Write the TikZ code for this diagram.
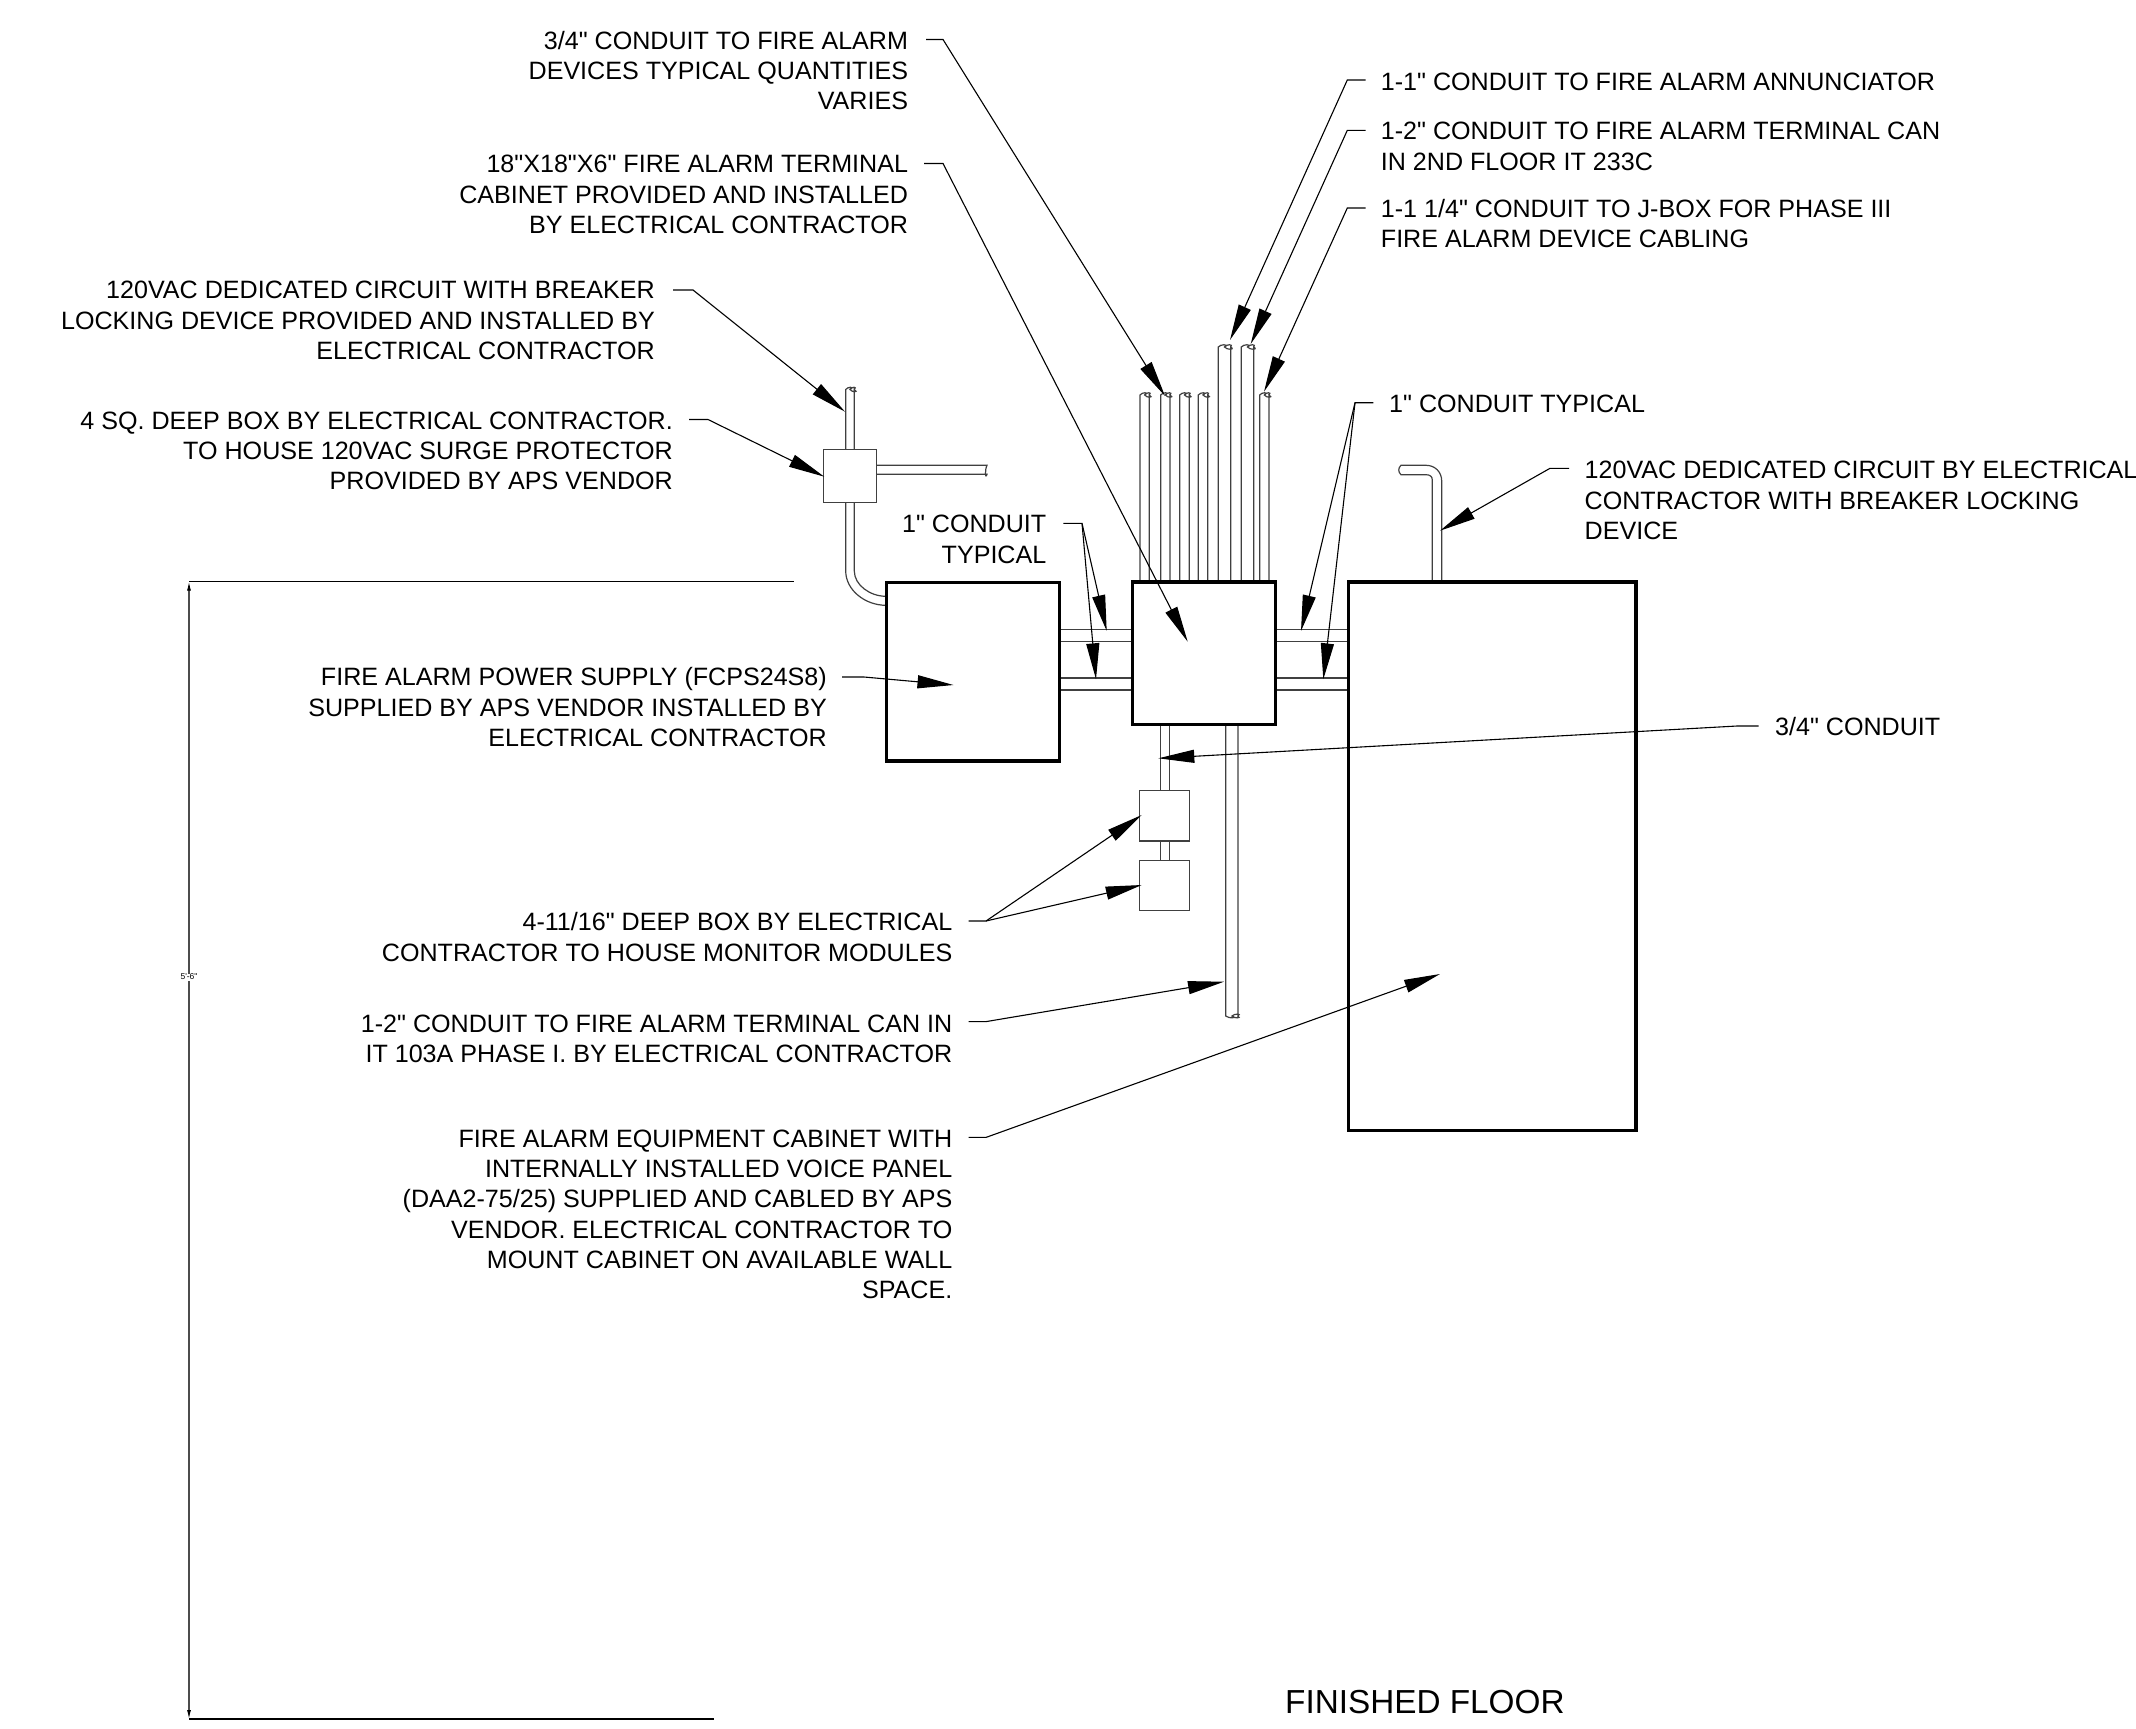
\documentclass[tikz,border=0pt]{standalone}
\usepackage{fontspec}
\setmainfont[Ligatures=TeXOff]{Liberation Sans}
\usetikzlibrary{arrows.meta}
\tikzset{
    thinline/.style={line width=1.1pt},
    conduit/.style={line width=1.2pt,black!75},
    panel/.style={line width=3.4pt,fill=white},
    devicebox/.style={line width=1.3pt,black!75,fill=white},
    leader/.style={line width=1.1pt,-{Triangle[length=36pt,width=13pt]}},
    notel/.style={anchor=north west,inner sep=0pt,align=left,font=\fontsize{25.1}{30.3}\selectfont},
    noter/.style={anchor=north east,inner sep=0pt,align=right,font=\fontsize{25.1}{30.3}\selectfont},
}
% upright run of conduit with a cut end: left x, right x, top y, bottom y
\newcommand{\upconduit}[4]{
    \draw[conduit] (#1,#4) -- (#1,#3) .. controls +(2,-3) and +(5,-3) .. ({(#1+#2)/2},#3)
        .. controls +(2,3) and +(5,3) .. (#2,#3) -- (#2,#4);
    \draw[conduit] ({(#1+#2)/2},#3) .. controls +(2,-3) and +(3,-3) .. (#2,#3);
}
\begin{document}
\begin{tikzpicture}[x=1pt,y=-1pt]
    \useasboundingbox (0,0) rectangle (2136,1729);
    %% dimension
    \draw[thinline] (189,581.6) -- (794,581.6);
    \draw[thinline] (189,1719) -- (714,1719);
    \draw[thinline,black!70,{Latex[length=9pt,width=4pt,black]}-{Latex[length=9pt,width=4pt,black]}] (189,581.6) -- (189,1719);
    \node[fill=white,inner sep=0.5pt,font=\fontsize{8.5}{9}\selectfont] (height) at (189,977) {5'-6"};
    %% conduits above the terminal cabinet
    \upconduit{1140}{1149.3}{395}{582}
    \upconduit{1160.7}{1170}{395}{582}
    \upconduit{1179.7}{1189.3}{395}{582}
    \upconduit{1198.3}{1207.7}{395}{582}
    \upconduit{1218.3}{1230.7}{347}{582}
    \upconduit{1241.3}{1253.7}{347}{582}
    \upconduit{1259.7}{1269}{395}{582}
    %% conduits between the cabinets
    \draw[conduit] (1059,629.7) -- (1132,629.7) (1059,641.7) -- (1132,641.7);
    \draw[conduit] (1059,678) -- (1132,678) (1059,690) -- (1132,690);
    \draw[conduit] (1275,629.7) -- (1348,629.7) (1275,641.7) -- (1348,641.7);
    \draw[conduit] (1275,678) -- (1348,678) (1275,690) -- (1348,690);
    %% conduits below the terminal cabinet
    \draw[conduit] (1160.3,724) -- (1160.3,791) (1169.3,724) -- (1169.3,791);
    \draw[conduit] (1160.3,841) -- (1160.3,860) (1169.3,841) -- (1169.3,860);
    \draw[conduit] (1225.7,724) -- (1225.7,1016) .. controls +(3,2.5) and +(6,2.5) .. (1232,1016)
        .. controls +(2,-2.5) and +(4,-2.5) .. (1238,1016) -- (1238,724);
    \draw[conduit] (1232,1016) .. controls +(2,2.5) and +(4,2.5) .. (1238,1016);
    %% supply feed with its box
    \upconduit{845.7}{854.3}{389.5}{450}
    \draw[conduit] (876.7,465.3) -- (987,465.3) .. controls +(-2,3) and +(-2,6) .. (987,474.3) -- (876.7,474.3);
    \draw[conduit] (845.7,502.7) -- (845.7,571) .. controls (845.7,590) and (865,605.3) .. (886,605.3);
    \draw[conduit] (854.3,502.7) -- (854.3,571) .. controls (854.3,585) and (870,596.3) .. (886,596.3);
    \draw[devicebox] (823.3,449.7) rectangle (876.7,502.7);
    %% cabinet feed
    \draw[conduit] (1432.3,581.7) -- (1432.3,480) .. controls (1432.3,476.5) and (1430,474.7) .. (1426,474.7) -- (1401,474.7)
        .. controls (1398,472) and (1398,468) .. (1401,465.3) -- (1426,465.3)
        .. controls (1435,465.3) and (1441.7,472) .. (1441.7,481) -- (1441.7,581.7);
    %% monitor boxes
    \draw[devicebox] (1139.7,790.7) rectangle (1189.7,841);
    \draw[devicebox] (1139.7,860.3) rectangle (1189.7,910.3);
    %% cabinets
    \draw[panel] (886.7,582.6) rectangle (1059.3,761);
    \draw[panel] (1132.3,582) rectangle (1275.3,724.3);
    \draw[panel] (1348.3,582) rectangle (1636,1130.6);
    %% notes on the left
    \node[noter] (alarmnote) at (908.2,31) {3/4" CONDUIT TO FIRE ALARM\\DEVICES TYPICAL QUANTITIES\\VARIES};
    \node[noter] (cabinetnote) at (908.2,155) {18"X18"X6" FIRE ALARM TERMINAL\\CABINET PROVIDED AND INSTALLED\\BY ELECTRICAL CONTRACTOR};
    \node[noter] (circuitnote) at (655,281) {120VAC DEDICATED CIRCUIT WITH BREAKER\\LOCKING DEVICE PROVIDED AND INSTALLED BY\\ELECTRICAL CONTRACTOR};
    \node[noter] (surgenote) at (673,411.5) {4 SQ. DEEP BOX BY ELECTRICAL CONTRACTOR.\\TO HOUSE 120VAC SURGE PROTECTOR\\PROVIDED BY APS VENDOR};
    \node[noter] (typicalnote) at (1046.5,515) {1" CONDUIT\\TYPICAL};
    \node[noter] (supplynote) at (827,667.5) {FIRE ALARM POWER SUPPLY (FCPS24S8)\\SUPPLIED BY APS VENDOR INSTALLED BY\\ELECTRICAL CONTRACTOR};
    \node[noter] (boxnote) at (952.5,912.5) {4-11/16" DEEP BOX BY ELECTRICAL\\CONTRACTOR TO HOUSE MONITOR MODULES};
    \node[noter] (phasenote) at (952.5,1014.5) {1-2" CONDUIT TO FIRE ALARM TERMINAL CAN IN\\IT 103A PHASE I. BY ELECTRICAL CONTRACTOR};
    \node[noter] (equipnote) at (952.5,1129.5) {FIRE ALARM EQUIPMENT CABINET WITH\\INTERNALLY INSTALLED VOICE PANEL\\(DAA2-75/25) SUPPLIED AND CABLED BY APS\\VENDOR. ELECTRICAL CONTRACTOR TO\\MOUNT CABINET ON AVAILABLE WALL\\SPACE.};
    %% notes on the right
    \node[notel] (annuncnote) at (1380.7,72.5) {1-1" CONDUIT TO FIRE ALARM ANNUNCIATOR};
    \node[notel] (floornote) at (1380.7,122) {1-2" CONDUIT TO FIRE ALARM TERMINAL CAN\\IN 2ND FLOOR IT 233C};
    \node[notel] (jboxnote) at (1380.7,199) {1-1 1/4" CONDUIT TO J-BOX FOR PHASE III\\FIRE ALARM DEVICE CABLING};
    \node[notel] (typicaltwonote) at (1389,394.5) {1" CONDUIT TYPICAL};
    \node[notel] (feednote) at (1584.5,461) {120VAC DEDICATED CIRCUIT BY ELECTRICAL\\CONTRACTOR WITH BREAKER LOCKING\\DEVICE};
    \node[notel] (conduitnote) at (1775,717) {3/4" CONDUIT};
    \node[anchor=base west,inner sep=0pt,font=\fontsize{33.3}{36}\selectfont] (finished) at (1285,1713.3) {FINISHED FLOOR};
    %% leaders
    \coordinate (alarmstart) at (926,39.5);
    \coordinate (alarmbend) at (943,39.5);
    \coordinate (alarmtip) at (1165,396);
    \draw[leader] (alarmstart) -- (alarmbend) -- (alarmtip);
    \coordinate (cabinetstart) at (924,163.5);
    \coordinate (cabinetbend) at (943,163.5);
    \coordinate (cabinettip) at (1187.7,641.7);
    \draw[leader] (cabinetstart) -- (cabinetbend) -- (cabinettip);
    \coordinate (circuitstart) at (673,290);
    \coordinate (circuitbend) at (693,290);
    \coordinate (circuittip) at (845,411.7);
    \draw[leader] (circuitstart) -- (circuitbend) -- (circuittip);
    \coordinate (surgestart) at (689,419.5);
    \coordinate (surgebend) at (708,419.5);
    \coordinate (surgetip) at (824.3,476.7);
    \draw[leader] (surgestart) -- (surgebend) -- (surgetip);
    \coordinate (typicalstart) at (1063.3,523.3);
    \coordinate (typicalbend) at (1082,523.3);
    \coordinate (typicaltipa) at (1106.7,631);
    \coordinate (typicaltipb) at (1096,679.3);
    \draw[leader] (typicalstart) -- (typicalbend) -- (typicaltipa);
    \draw[leader] (typicalbend) -- (typicaltipb);
    \coordinate (typicaltwostart) at (1373.3,402.7);
    \coordinate (typicaltwobend) at (1355,402.7);
    \coordinate (typicaltwotipa) at (1301,631);
    \coordinate (typicaltwotipb) at (1323.3,679.3);
    \draw[leader] (typicaltwostart) -- (typicaltwobend) -- (typicaltwotipa);
    \draw[leader] (typicaltwobend) -- (typicaltwotipb);
    \coordinate (supplystart) at (842,677);
    \coordinate (supplybend) at (864,677);
    \coordinate (supplytip) at (953.5,685);
    \draw[leader] (supplystart) -- (supplybend) -- (supplytip);
    \coordinate (boxstart) at (968.5,921);
    \coordinate (boxbend) at (986,921);
    \coordinate (boxtipa) at (1141.7,815);
    \coordinate (boxtipb) at (1141.7,885);
    \draw[leader] (boxstart) -- (boxbend) -- (boxtipa);
    \draw[leader] (boxbend) -- (boxtipb);
    \coordinate (phasestart) at (968.5,1021.6);
    \coordinate (phasebend) at (986,1021.6);
    \coordinate (phasetip) at (1224,981.7);
    \draw[leader] (phasestart) -- (phasebend) -- (phasetip);
    \coordinate (equipstart) at (968.5,1137.4);
    \coordinate (equipbend) at (986,1137.4);
    \coordinate (equiptip) at (1440,974);
    \draw[leader] (equipstart) -- (equipbend) -- (equiptip);
    \coordinate (annuncstart) at (1365.7,80);
    \coordinate (annuncbend) at (1347.3,80);
    \coordinate (annunctip) at (1230,340);
    \draw[leader] (annuncstart) -- (annuncbend) -- (annunctip);
    \coordinate (floorstart) at (1365.7,130.3);
    \coordinate (floorbend) at (1347.3,130.3);
    \coordinate (floortip) at (1250.7,344);
    \draw[leader] (floorstart) -- (floorbend) -- (floortip);
    \coordinate (jboxstart) at (1365.7,208);
    \coordinate (jboxbend) at (1347.3,208);
    \coordinate (jboxtip) at (1264,391.7);
    \draw[leader] (jboxstart) -- (jboxbend) -- (jboxtip);
    \coordinate (feedstart) at (1569,468.3);
    \coordinate (feedbend) at (1550,468.3);
    \coordinate (feedtip) at (1440,530.7);
    \draw[leader] (feedstart) -- (feedbend) -- (feedtip);
    \coordinate (conduitstart) at (1758.6,726);
    \coordinate (conduitbend) at (1737,726);
    \coordinate (conduittip) at (1158.3,758.3);
    \draw[leader] (conduitstart) -- (conduitbend) -- (conduittip);
\end{tikzpicture}
\end{document}
